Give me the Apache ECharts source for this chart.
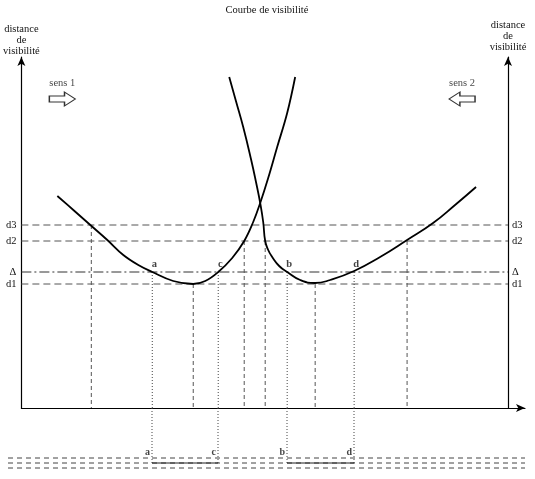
<!DOCTYPE html>
<html><head><meta charset="utf-8">
<script src="https://cdn.jsdelivr.net/npm/echarts@6/dist/echarts.min.js"></script>
<style>html,body{margin:0;padding:0;background:#fff}#c{width:535px;height:479px}</style>
</head><body><div id="c"></div>
<script>
// Curve "sens 1" (x, distance)
const curve1X = [36,52,69,86,102,117,131,152,172,184,197,211,223,232,239,247,256,266,274];
const curve1Y = [212,198,183,168,153,143,136,127,124,127,136,150,167,186,205,230,261,295,331];
// Curve "sens 2"
const curve2X = [208,215,222,230,235,239,242,244,247,251,258,266,279,294,309,333,359,386,412,434,455];
const curve2Y = [331,306,281,248,225,205,186,167,158,151,142,136,128,125,128,137,151,168,185,203,221];
// Reference levels
const levelNames = ['d1','Δ','d2','d3'];
const levelValues = [124,136,167,183];
// vertical projections (x, level) dashed
const dashX = [70,172,223,244,294,386];
const dashY = [183,124,167,167,124,167];
// points a, c, b, d on Δ
const ptNames = ['a','c','b','d'];
const ptX = [131,197,266,333];
// sens arrows
const sensNames = ['sens 1','sens 2'];
const sensX = [41,441];
const sensY = [309,309];
// bottom strip lines
const stripY = [17,12,7];

const rightAxisX = 487;
const serif = 'Liberation Serif';
const txt = {fontFamily: serif, color:'#111'};
const levelMap = {};
levelValues.forEach((v,i)=>levelMap[v]=levelNames[i]);

const series = [];
const lvlStyle = (name)=> name==='Δ' ? {color:'#333',width:1,type:[10,3,2,3]} : {color:'#555',width:1,type:[7,4]};
levelValues.forEach((v,i)=>{
  series.push({type:'line',xAxisIndex:0,yAxisIndex:0,symbol:'none',silent:true,
    data:[[0,v],[rightAxisX,v]],lineStyle:lvlStyle(levelNames[i])});
});
dashX.forEach((x,i)=>{
  series.push({type:'line',xAxisIndex:0,yAxisIndex:0,symbol:'none',silent:true,
    data:[[x,dashY[i]],[x,0]],lineStyle:{color:'#555',width:1,type:[4,3]}});
});
ptX.forEach((x,i)=>{
  series.push({type:'line',xAxisIndex:0,yAxisIndex:0,symbol:'none',silent:true,
    data:[[x,levelValues[1]],[x,0]],lineStyle:{color:'#444',width:1,type:[1,2]}});
  series.push({type:'line',xAxisIndex:1,yAxisIndex:2,symbol:'none',silent:true,
    data:[[x,67],[x,stripY[1]]],lineStyle:{color:'#444',width:1,type:[1,2]}});
});
series.push({type:'line',xAxisIndex:0,yAxisIndex:0,symbol:'none',smooth:0.4,
  data:curve1X.map((x,i)=>[x,curve1Y[i]]),lineStyle:{color:'#000',width:1.8}});
series.push({type:'line',xAxisIndex:0,yAxisIndex:0,symbol:'none',smooth:0.5,
  data:curve2X.map((x,i)=>[x,curve2Y[i]]),lineStyle:{color:'#000',width:1.8}});
// point labels on curves
series.push({type:'scatter',xAxisIndex:0,yAxisIndex:0,symbolSize:0,
  data:ptX.map((x,i)=>({value:[x+2,levelValues[1]],name:ptNames[i]})),
  label:{show:true,position:'top',distance:2,formatter:'{b}',fontSize:10.5,fontWeight:'bold',...txt}});
// sens arrows
const arrowPath = 'path://M0,4 L14,4 L14,0 L24,7 L14,14 L14,10 L0,10 Z';
series.push({type:'scatter',xAxisIndex:0,yAxisIndex:0,symbol:arrowPath,symbolSize:[26,14],
  data:sensX.map((x,i)=>({value:[x,sensY[i]],name:sensNames[i],symbolRotate:i===0?0:180})),
  itemStyle:{color:'#fff',borderColor:'#000',borderWidth:1.1},
  label:{show:true,position:'top',distance:3,formatter:'{b}',fontSize:10.5,...txt}});
// bottom strip
stripY.forEach(y=>{
  series.push({type:'line',xAxisIndex:1,yAxisIndex:2,symbol:'none',silent:true,
    data:[[-13,y],[504,y]],lineStyle:{color:'#444',width:1,type:[5,4]}});
});
[[0,1],[2,3]].forEach(([p,q])=>{
  series.push({type:'line',xAxisIndex:1,yAxisIndex:2,symbol:'none',silent:true,
    data:[[ptX[p],stripY[1]],[ptX[q],stripY[1]]],lineStyle:{color:'#222',width:1}});
});
series.push({type:'scatter',xAxisIndex:1,yAxisIndex:2,symbolSize:0,
  data:ptX.map((x,i)=>({value:[x,23],name:ptNames[i]})),
  label:{show:true,position:'left',distance:2,formatter:'{b}',fontSize:10,fontWeight:'bold',...txt}});

const axisNameStyle = {fontSize:10.5,lineHeight:11,align:'center',verticalAlign:'bottom',...txt};
const mkY = (pos, offset, margin, gap)=>({
  type:'value',gridIndex:0,min:0,max:351,position:pos,offset:offset,
  name:'distance\nde\nvisibilité',nameLocation:'end',nameGap:gap,nameTextStyle:axisNameStyle,
  axisLine:{show:true,symbol:['none','arrow'],symbolSize:[6,9],lineStyle:{color:'#000',width:1.2}},
  axisTick:{show:false},splitLine:{show:false},
  axisLabel:{show:true,customValues:levelValues,margin:margin,fontSize:10.5,...txt,
    formatter:v=>levelMap[v]||''}
});

const option = {
  animation:false,
  backgroundColor:'#fff',
  title:{text:'Courbe de visibilité',left:262,top:0,textAlign:'center',
    textStyle:{fontSize:10.5,fontWeight:'normal',...txt}},
  grid:[{left:21,right:10,top:57,bottom:71},{left:8,right:10,top:408,bottom:4}],
  xAxis:[
    {type:'value',gridIndex:0,min:0,max:504,
     axisLine:{show:true,symbol:['none','arrow'],symbolSize:[6,9],lineStyle:{color:'#000',width:1.2}},
     axisTick:{show:false},axisLabel:{show:false},splitLine:{show:false}},
    {type:'value',gridIndex:1,min:-13,max:504,show:false}
  ],
  yAxis:[mkY('left',0,5,0),mkY('right',-17,4,4),
    {type:'value',gridIndex:1,min:0,max:67,show:false}],
  series:series
};
echarts.init(document.getElementById('c'),null,{renderer:'canvas'}).setOption(option);
</script></body></html>
